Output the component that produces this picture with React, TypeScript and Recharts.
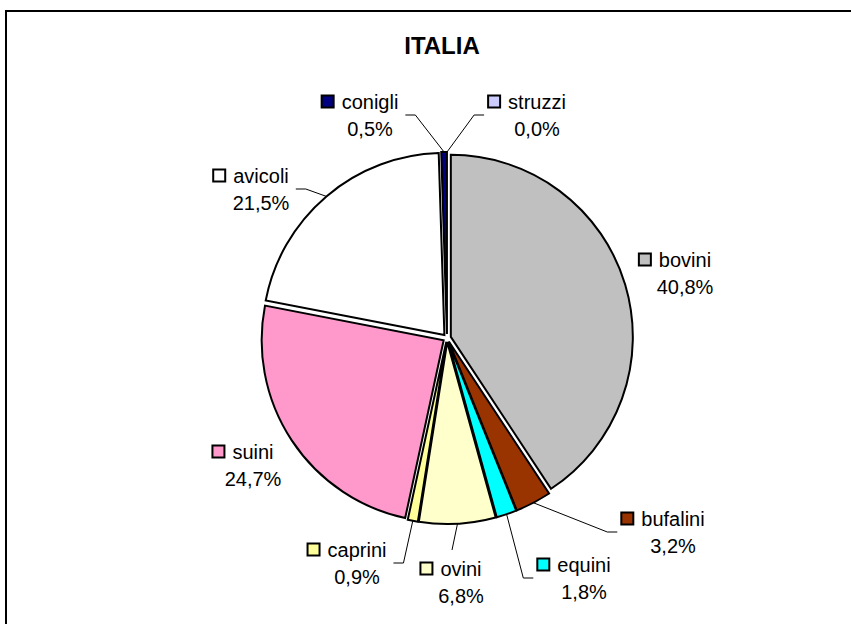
import { PieChart, Pie, Sector } from 'recharts';

const categories = ['bovini', 'bufalini', 'equini', 'ovini', 'caprini', 'suini', 'avicoli', 'conigli', 'struzzi'];
const shares = [40.8, 3.2, 1.8, 6.8, 0.9, 24.7, 21.5, 0.5, 0.0];
const colors = ['#C0C0C0', '#993300', '#00FFFF', '#FFFFCC', '#FFFF99', '#FF99CC', '#FFFFFF', '#000080', '#CCCCFF'];

const data = categories.map((name, i) => ({ name, value: shares[i], fill: colors[i] }));

// labels were dragged by hand in the original, so offsets from the pie centre
const labelPos: Record<string, { dx: number; dy: number; line: 'none' | 'side' | 'top' }> = {
  bovini: { dx: 238, dy: -65, line: 'none' },
  bufalini: { dx: 226, dy: 194, line: 'side' },
  equini: { dx: 137, dy: 240, line: 'side' },
  ovini: { dx: 14, dy: 244, line: 'top' },
  caprini: { dx: -90, dy: 225, line: 'side' },
  suini: { dx: -194, dy: 127, line: 'none' },
  avicoli: { dx: -186, dy: -149, line: 'side' },
  conigli: { dx: -77, dy: -223, line: 'side' },
  struzzi: { dx: 90, dy: -223, line: 'side' },
};

const FONT = '"Liberation Sans", Arial, Helvetica, sans-serif';
const RAD = Math.PI / 180;
const EXPLODE = 4;

let ctx: CanvasRenderingContext2D | null = null;
function textWidth(s: string) {
  if (!ctx) ctx = document.createElement('canvas').getContext('2d');
  if (!ctx) return s.length * 9;
  ctx.font = `20px ${FONT}`;
  return ctx.measureText(s).width;
}

function ExplodedSector(props: any) {
  const { cx, cy, midAngle } = props;
  return (
    <Sector
      {...props}
      cx={cx + EXPLODE * Math.cos(midAngle * RAD)}
      cy={cy - EXPLODE * Math.sin(midAngle * RAD)}
    />
  );
}

function renderLabel(props: any) {
  const { cx, cy, midAngle, outerRadius, name, value, index } = props;
  const pos = labelPos[name];
  if (!pos) return null;
  const x = cx + pos.dx;
  const y = cy + pos.dy;
  const w = textWidth(name);
  const r = outerRadius + EXPLODE;
  const ex = cx + r * Math.cos(midAngle * RAD);
  const ey = cy - r * Math.sin(midAngle * RAD);

  let line = null;
  if (pos.line === 'top') {
    line = <polyline points={`${ex},${ey} ${x - 9},${y - 32}`} fill="none" stroke="#000" strokeWidth={1} />;
  } else if (pos.line === 'side') {
    const p1 = pos.dx < 0 ? x + w / 2 + 7 : x - w / 2 - 24;
    const p2 = pos.dx < 0 ? p1 + 10 : p1 - 10;
    line = <polyline points={`${ex},${ey} ${p2},${y} ${p1},${y}`} fill="none" stroke="#000" strokeWidth={1} />;
  }

  return (
    <g key={`lbl-${index}`}>
      {line}
      <rect x={x - w / 2 - 20} y={y - 19.5} width={12} height={12} fill={colors[index]} stroke="#000" strokeWidth={2} />
      <text x={x} y={y - 13.5} textAnchor="middle" dominantBaseline="central" fontSize={20} fontFamily={FONT} fill="#000">
        {name}
      </text>
      <text x={x} y={y + 13.5} textAnchor="middle" dominantBaseline="central" fontSize={20} fontFamily={FONT} fill="#000">
        {value.toFixed(1).replace('.', ',') + '%'}
      </text>
    </g>
  );
}

export default function App() {
  return (
    <div style={{ position: 'absolute', left: 0, top: 0, width: 851, height: 624, overflow: 'hidden', background: '#fff' }}>
      <div style={{ position: 'absolute', left: 5, top: 10, width: 1000, height: 1000, border: '2px solid #000' }} />
      <div
        style={{
          position: 'absolute', left: 0, top: 31, width: 884, textAlign: 'center',
          fontFamily: FONT, fontWeight: 'bold', fontSize: 24, lineHeight: '30px',
        }}
      >
        ITALIA
      </div>
      <div style={{ position: 'absolute', left: 0, top: 0 }}>
        <PieChart width={851} height={624} margin={{ top: 0, right: 0, bottom: 0, left: 0 }}>
          <Pie
            data={data}
            dataKey="value"
            nameKey="name"
            cx={447}
            cy={338}
            outerRadius={182}
            startAngle={90}
            endAngle={-270}
            stroke="#000"
            strokeWidth={2}
            shape={ExplodedSector}
            label={renderLabel}
            labelLine={false}
            isAnimationActive={false}
          />
        </PieChart>
      </div>
    </div>
  );
}
